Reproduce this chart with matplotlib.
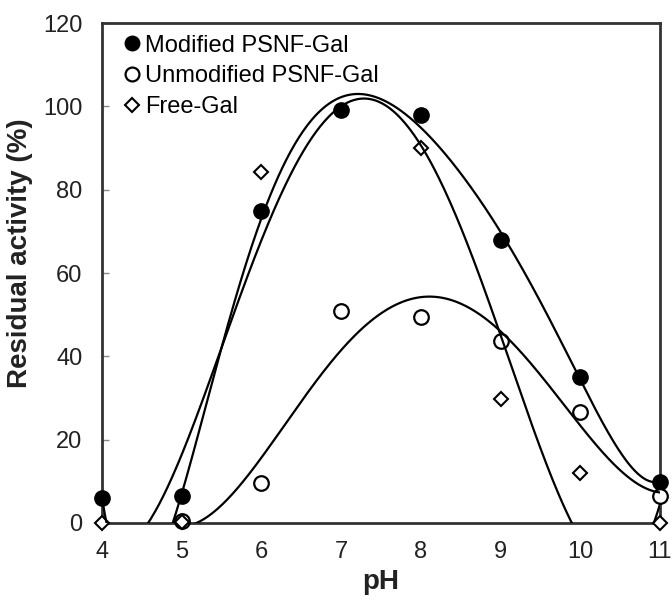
import numpy as np
import matplotlib.pyplot as plt

plt.rcParams['font.family'] = ['Liberation Sans', 'DejaVu Sans']

# data
ph = [4, 5, 6, 7, 8, 9, 10, 11]
modified = [6.1, 6.4, 75, 99.1, 98, 68, 35, 9.9]
unmod_ph = [5, 6, 7, 8, 9, 10, 11]
unmodified = [0.5, 9.6, 50.9, 49.4, 43.8, 26.6, 6.4]
free_ph = [4, 5, 6, 8, 9, 10, 11]
free_gal = [0, 0.2, 84.2, 90.1, 29.8, 11.9, 0]

# polynomial trendlines (as in the spreadsheet)
def trend(x, y, deg):
    c = np.polyfit(x, y, deg)
    xs = np.linspace(min(x), max(x), 400)
    return xs, np.polyval(c, xs)

fig = plt.figure(figsize=(6.72, 6.01), dpi=100)
ax = fig.add_axes([0.1518, 0.1298, 0.8303, 0.8319])

# markers
ax.plot(ph, modified, 'o', color='k', ms=11, clip_on=False, zorder=3,
        label='Modified PSNF-Gal')
ax.plot(unmod_ph, unmodified, 'o', mfc='white', mec='k', mew=1.6, ms=10.5,
        clip_on=False, zorder=3, label='Unmodified PSNF-Gal')
ax.plot(free_ph, free_gal, 'D', mfc='white', mec='k', mew=1.5, ms=7.5,
        clip_on=False, zorder=3, label='Free-Gal')

# trendlines on top
for x, y, d in [(ph, modified, 6), (unmod_ph, unmodified, 4), (free_ph, free_gal, 4)]:
    xs, ys = trend(x, y, d)
    ax.plot(xs, ys, color='k', lw=1.6, zorder=4)

ax.set_xlim(4, 11)
ax.set_ylim(0, 120)
ax.set_xticks(range(4, 12))
ax.set_yticks(range(0, 121, 20))
ax.tick_params(axis='x', length=0, pad=13, labelsize=17, colors='#222222')
ax.tick_params(axis='y', direction='in', length=5, width=1, color='#888888',
               pad=14, labelsize=17, labelcolor='#222222')
for s in ax.spines.values():
    s.set_color('#333333')
    s.set_linewidth(2)

ax.set_xlabel('pH', fontsize=20, fontweight='bold', color='#222222')
ax.set_ylabel('Residual activity (%)', fontsize=20, fontweight='bold', color='#222222')
ax.xaxis.set_label_coords(0.5, -0.092)
ax.yaxis.set_label_coords(-0.124, 0.54)

ax.legend(loc='upper left', bbox_to_anchor=(0.041, 0.977), frameon=False,
          fontsize=17, handlelength=0.6, handletextpad=0.24, labelspacing=0.37,
          borderpad=0, borderaxespad=0, markerscale=0.95)

plt.savefig('out.png')
